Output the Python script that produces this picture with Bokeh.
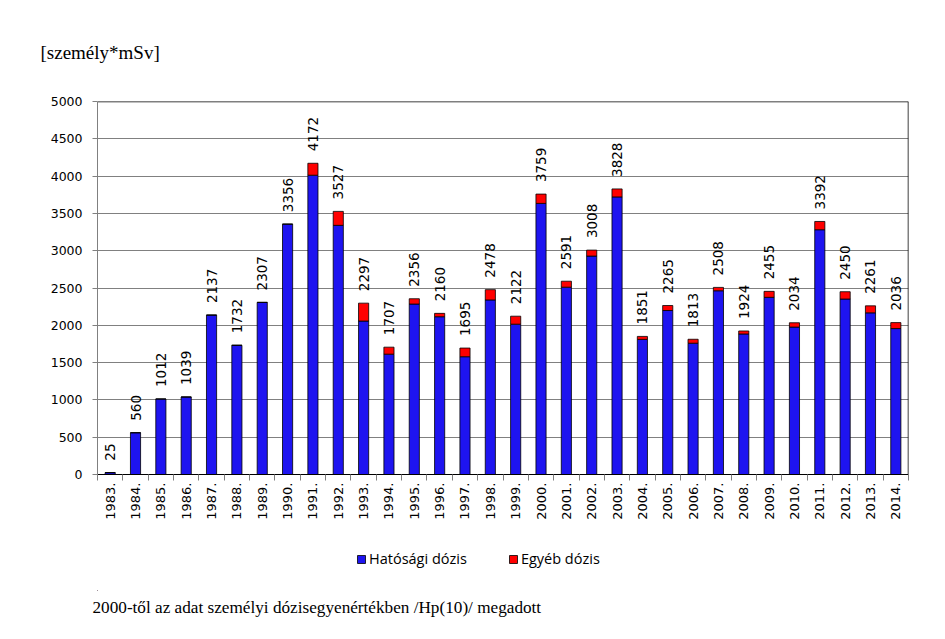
import math
from bokeh.plotting import figure
from bokeh.layouts import column
from bokeh.models import (ColumnDataSource, FixedTicker, Range1d, LabelSet, Title,
                          Legend, LegendItem)
from bokeh.core.properties import value
from bokeh.embed import file_html
from bokeh.resources import INLINE

years = ["1983.", "1984.", "1985.", "1986.", "1987.", "1988.", "1989.", "1990.",
         "1991.", "1992.", "1993.", "1994.", "1995.", "1996.", "1997.", "1998.",
         "1999.", "2000.", "2001.", "2002.", "2003.", "2004.", "2005.", "2006.",
         "2007.", "2008.", "2009.", "2010.", "2011.", "2012.", "2013.", "2014."]
totals = [25, 560, 1012, 1039, 2137, 1732, 2307, 3356,
          4172, 3527, 2297, 1707, 2356, 2160, 1695, 2478,
          2122, 3759, 2591, 3008, 3828, 1851, 2265, 1813,
          2508, 1924, 2455, 2034, 3392, 2450, 2261, 2036]
egyeb = [0, 0, 0, 0, 0, 0, 0, 0,
         160, 187, 240, 94, 71, 45, 116, 138,
         107, 125, 80, 80, 107, 40, 67, 53,
         45, 40, 80, 58, 111, 98, 94, 80]
hatosagi = [t - e for t, e in zip(totals, egyeb)]
y_ticks = [0, 500, 1000, 1500, 2000, 2500, 3000, 3500, 4000, 4500, 5000]
series_names = ["Hatósági dózis", "Egyéb dózis"]
series_colors = ["#1E14F0", "#FF0000"]
unit_text = "[személy*mSv]"
note_text = "2000-től az adat személyi dózisegyenértékben /Hp(10)/ megadott"

idx = list(range(len(years)))
src = ColumnDataSource(dict(
    x=idx, hat=hatosagi, egy=egyeb, total=totals,
    lbl=[str(t) for t in totals], years=years))

W = 929
H1, H2 = 540, 83
p = figure(width=W, height=H1, output_backend="svg", toolbar_location=None,
           x_range=Range1d(-0.5, len(years) - 0.5), y_range=Range1d(0, 5000),
           min_border_left=97, min_border_top=101, min_border_right=21,
           min_border_bottom=H1 - 474)
p.outline_line_color = None
p.background_fill_color = "white"

r1 = p.vbar(x="x", width=0.4, bottom=0, top="hat", source=src,
            fill_color=series_colors[0], line_color="black", line_width=0.8)
src2 = ColumnDataSource(dict(x=idx, b=hatosagi, t=totals))
r2 = p.vbar(x="x", width=0.4, bottom="b", top="t", source=src2,
            fill_color=series_colors[1], line_color="black", line_width=0.8)

labels = LabelSet(x="x", y="total", text="lbl", source=src, angle=math.pi / 2,
                  text_align="left", text_baseline="middle", y_offset=12,
                  text_font=value("DejaVu Sans"), text_font_size="13.5px",
                  text_color="black")
p.add_layout(labels)

# axes
p.xgrid.grid_line_color = None
p.ygrid.grid_line_color = "#808080"
p.ygrid.grid_line_width = 1
p.yaxis.ticker = FixedTicker(ticks=y_ticks)
p.yaxis.axis_line_color = "#808080"
p.yaxis.major_tick_line_color = "#808080"
p.yaxis.major_tick_out = 5
p.yaxis.major_tick_in = 0
p.yaxis.minor_tick_line_color = None
p.yaxis.major_label_text_font = "DejaVu Sans"
p.yaxis.major_label_text_font_size = "12.5px"
p.yaxis.major_label_text_color = "black"
p.yaxis.major_label_standoff = 10

p.xaxis.ticker = FixedTicker(ticks=idx,
                             minor_ticks=[i - 0.5 for i in range(len(years) + 1)])
p.xaxis.major_label_overrides = {i: y for i, y in enumerate(years)}
p.xaxis.major_label_orientation = math.pi / 2
p.xaxis.major_tick_line_color = None
p.xaxis.minor_tick_line_color = "#808080"
p.xaxis.minor_tick_out = 6
p.xaxis.minor_tick_in = 0
p.xaxis.axis_line_color = "black"
p.xaxis.major_label_text_font = "DejaVu Sans"
p.xaxis.major_label_text_font_size = "13px"
p.xaxis.major_label_text_color = "black"
p.xaxis.major_label_standoff = 2

# frame top and right border
p.line(x=[-0.5, len(years) - 0.5], y=[5000, 5000], line_color="black", line_width=1.5)
p.line(x=[len(years) - 0.5, len(years) - 0.5], y=[0, 5000], line_color="black", line_width=1.5)

p.add_layout(Title(text=unit_text, align="left", offset=-57, standoff=77,
                   text_font="Liberation Serif", text_font_size="19px",
                   text_font_style="normal", text_color="black"), "above")

# bottom strip: legend and note (frame aligned with the chart frame)
q = figure(width=W, height=H2, output_backend="svg", toolbar_location=None,
           x_range=Range1d(0, 811), y_range=Range1d(0, 50),
           x_axis_type=None, y_axis_type=None,
           min_border_left=97, min_border_right=21, min_border_top=0,
           min_border_bottom=33)
q.outline_line_color = None
q.xgrid.visible = False
q.ygrid.visible = False
# legend proxies, kept far outside the visible range
q1 = q.vbar(x=[-1000], width=1, bottom=[-1000], top=[-999], fill_color=series_colors[0],
            line_color="black", line_width=0.8)
q2 = q.vbar(x=[-1000], width=1, bottom=[-1000], top=[-999], fill_color=series_colors[1],
            line_color="black", line_width=0.8)
legend = Legend(items=[LegendItem(label=series_names[0], renderers=[q1]),
                       LegendItem(label=series_names[1], renderers=[q2])],
                orientation="horizontal", location=(259, 22),
                border_line_color=None, background_fill_alpha=0,
                label_text_font="Open Sans", label_text_font_size="14.5px",
                label_text_color="black",
                glyph_width=10, glyph_height=10, spacing=41, padding=0, margin=0,
                label_standoff=3, label_height=16)
q.add_layout(legend, "center")
q.add_layout(Title(text=note_text, align="left", offset=-5, standoff=11,
                   text_font="Liberation Serif", text_font_size="17.2px",
                   text_font_style="normal", text_color="black"), "below")

layout = column(p, q, spacing=0)
open("out.html", "w").write(file_html(layout, INLINE))
